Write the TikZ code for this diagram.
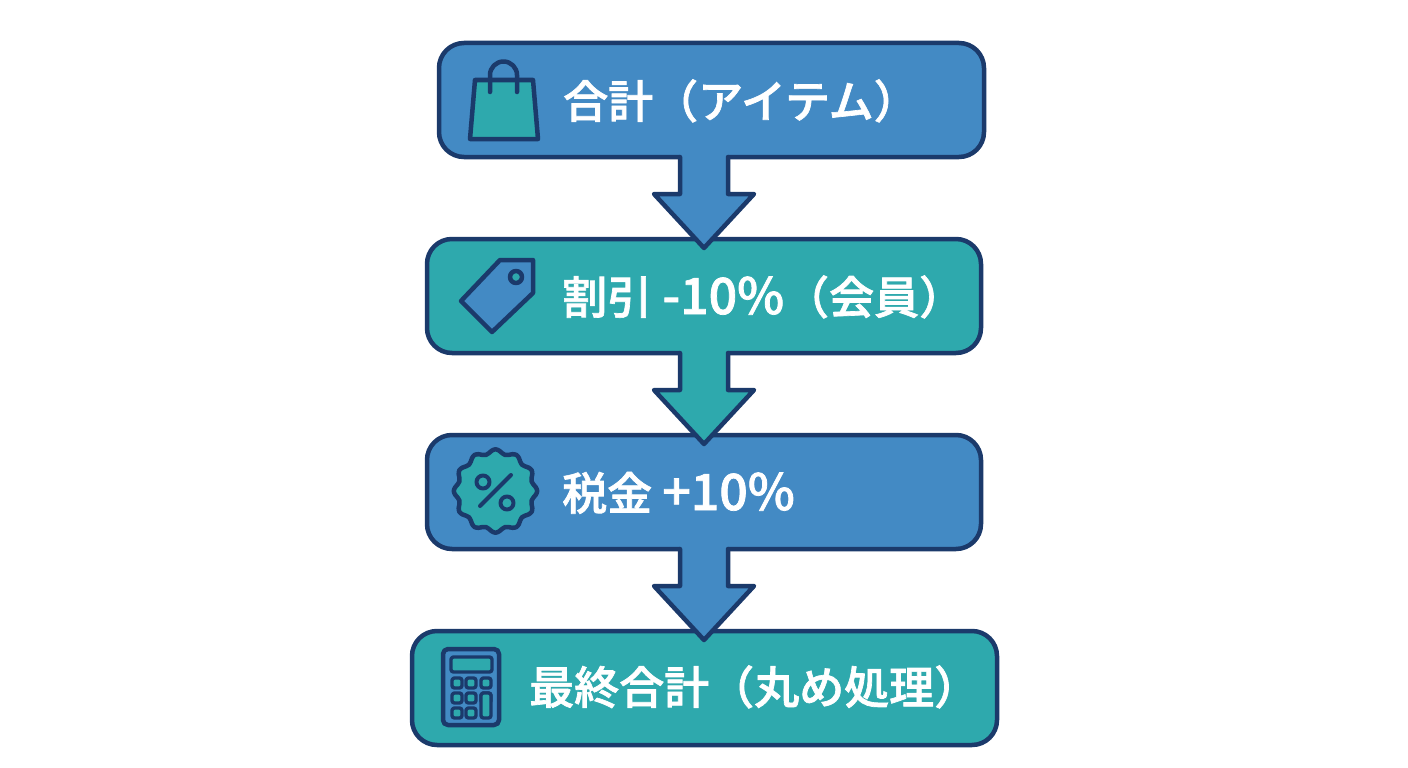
\documentclass[tikz,border=0pt]{standalone}
\usepackage{fontspec}
\setmainfont{Noto Sans CJK JP Medium}[FakeBold=1.5]
\usetikzlibrary{calc}
\definecolor{bluefill}{HTML}{438AC4}
\definecolor{tealfill}{HTML}{2EA9AD}
\definecolor{inkline}{HTML}{1B3A6B}
\newcommand{\latn}[1]{{\fontsize{50}{50}\selectfont #1}}
\tikzset{
  x=1pt,y=-1pt,
  flowbox/.style={draw=inkline,line width=4.5pt,rounded corners=25pt,inner sep=0pt,outer sep=0pt,anchor=north west},
  boxlabel/.style={text=white,font=\fontsize{45}{45}\selectfont,anchor=base west,inner sep=0pt},
  icon/.style={draw=inkline,line width=4.5pt,line join=round,line cap=round},
  thin icon/.style={draw=inkline,line width=4pt,line join=round,line cap=round},
  key icon/.style={draw=inkline,line width=3.4pt,line join=round,line cap=round,fill=tealfill,rounded corners=2.5pt},
}
\newcommand{\flowarrow}[3]{%
  \fill[#3] ($(#1.south -| axis)+(-24,-4)$) -- ($(#1.south -| axis)+(-24,37)$) -- ($(#1.south -| axis)+(-50,37)$)
    -- ($(#2.north -| axis)+(0,9)$) -- ($(#1.south -| axis)+(50,37)$) -- ($(#1.south -| axis)+(24,37)$) -- ($(#1.south -| axis)+(24,-4)$) -- cycle;
  \draw[inkline,line width=4.5pt,line join=round,line cap=round]
    ($(#1.south -| axis)+(-24,0)$) -- ($(#1.south -| axis)+(-24,37)$) -- ($(#1.south -| axis)+(-50,37)$)
    -- ($(#2.north -| axis)+(0,9)$) -- ($(#1.south -| axis)+(50,37)$) -- ($(#1.south -| axis)+(24,37)$) -- ($(#1.south -| axis)+(24,0)$);
}
\begin{document}
\begin{tikzpicture}
\useasboundingbox[fill=white] (0,0) rectangle (1408,768);
\coordinate (axis) at (704,0);
\node[flowbox,fill=bluefill,minimum width=545pt,minimum height=114pt] (total) at (439,43) {};
\node[flowbox,fill=tealfill,minimum width=554pt,minimum height=114pt] (discount) at (427,239) {};
\node[flowbox,fill=bluefill,minimum width=554pt,minimum height=114pt] (tax) at (427,435) {};
\node[flowbox,fill=tealfill,minimum width=585pt,minimum height=114pt] (final) at (412,631) {};
\flowarrow{total}{discount}{bluefill}
\flowarrow{discount}{tax}{tealfill}
\flowarrow{tax}{final}{bluefill}
\node[boxlabel] (t1) at (563,118) {合計（アイテム）};
\node[boxlabel] (t2) at (562,314) {割引 \latn{-10\%}（会員）};
\node[boxlabel] (t3) at (562,510) {税金 \latn{+10\%}};
\node[boxlabel] (t4) at (529,704) {最終合計（丸め処理）};
% bag
\draw[icon,fill=tealfill] (475,80) -- (533,80) -- (538,139) -- (470,139) -- cycle;
\draw[icon] (490,92) -- (490,75) arc[start angle=180,end angle=360,radius=13.5] -- (517,92);
% tag
\draw[icon,fill=bluefill] (500,260) -- (533,260) -- (533,293) -- (492,332) -- (461,301) -- cycle;
\draw[icon,fill=tealfill] (516,277) circle[radius=6];
% badge
\draw[icon,fill=tealfill] plot[smooth cycle,samples=72,domain=0:355,variable=\t] ({495.5+(39.5+2.2*cos(12*\t))*cos(\t)},{491+(39.5+2.2*cos(12*\t))*sin(\t)});
\draw[thin icon] (480,506) -- (511,475);
\draw[thin icon] (483,482) circle[radius=6.5];
\draw[thin icon] (507,503) circle[radius=6.5];
% calculator
\draw[icon,fill=bluefill,rounded corners=5pt] (443,649) rectangle (499,725);
\draw[key icon] (451,657) rectangle (492,672);
\foreach \cx in {457,471,486}\foreach \cy in {683,698}
  {\draw[key icon] (\cx-5,\cy-5) rectangle (\cx+5,\cy+5);}
\foreach \cx in {457,471}
  {\draw[key icon] (\cx-5,708) rectangle (\cx+5,718);}
\draw[key icon] (481,693) rectangle (491,718);
\end{tikzpicture}
\end{document}
